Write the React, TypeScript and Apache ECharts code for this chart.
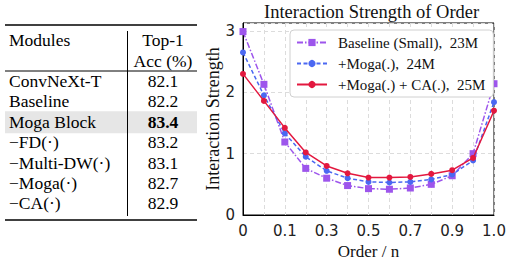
import React, { useEffect, useRef } from "react";
import * as echarts from "echarts";

const orders = ["0", "0.05", "0.1", "0.2", "0.3", "0.4", "0.5", "0.6", "0.7", "0.8", "0.9", "0.95", "1.0"];
const baselineSmall = [2.99, 2.13, 1.19, 0.76, 0.6, 0.48, 0.43, 0.42, 0.44, 0.5, 0.64, 1.0, 2.14];
const mogaOnly = [2.65, 1.95, 1.33, 0.95, 0.72, 0.6, 0.54, 0.53, 0.54, 0.58, 0.66, 0.89, 1.84];
const mogaCA = [2.3, 1.86, 1.42, 1.02, 0.8, 0.68, 0.61, 0.61, 0.62, 0.67, 0.73, 0.93, 1.7];
const seriesNames = ["Baseline (Small),  23M", "+Moga(.),  24M", "+Moga(.) + CA(.),  25M"];
const yTicks = [0, 1, 2, 3];

const tableModules = ["ConvNeXt-T", "Baseline", "Moga Block", "\u2212FD(\u00b7)", "\u2212Multi-DW(\u00b7)", "\u2212Moga(\u00b7)", "\u2212CA(\u00b7)"];
const tableAcc = ["82.1", "82.2", "83.4", "83.2", "83.1", "82.7", "82.9"];
const highlightRow = 2;

const SERIF = "Liberation Serif";
const SANS = "DejaVu Sans";

export default function App() {
  const ref = useRef<HTMLDivElement>(null);
  useEffect(() => {
    document.body.style.margin = "0";
    const chart = echarts.init(ref.current!, null, { renderer: "svg" });
    const rowY0 = 81;
    const rowStep = 20.4;
    const graphics: any[] = [];
    const txt = (x: number, y: number, text: string, align: string, bold = false) => ({
      type: "text",
      x,
      y,
      style: {
        text,
        fontFamily: SERIF,
        fontSize: 17.5,
        fontWeight: bold ? "bold" : "normal",
        fill: "#000",
        align,
        verticalAlign: "middle",
      },
    });
    graphics.push({ type: "rect", shape: { x: 5, y: rowY0 + rowStep * highlightRow - 10.5, width: 192, height: 22 }, style: { fill: "#e6e6e6" }, z: 0 });
    graphics.push({ type: "line", shape: { x1: 5, y1: 25, x2: 197, y2: 25 }, style: { stroke: "#000", lineWidth: 1.5 } });
    graphics.push({ type: "line", shape: { x1: 5, y1: 71, x2: 197, y2: 71 }, style: { stroke: "#000", lineWidth: 1 } });
    graphics.push({ type: "line", shape: { x1: 5, y1: 220, x2: 197, y2: 220 }, style: { stroke: "#000", lineWidth: 1.5 } });
    graphics.push({ type: "line", shape: { x1: 127.5, y1: 31, x2: 127.5, y2: 216 }, style: { stroke: "#000", lineWidth: 1 } });
    graphics.push(txt(9, 40, "Modules", "left"));
    graphics.push(txt(163, 40, "Top-1", "center"));
    graphics.push(txt(163, 61, "Acc (%)", "center"));
    tableModules.forEach((m, i) => {
      const y = rowY0 + rowStep * i;
      graphics.push(txt(9, y, m, "left"));
      graphics.push(txt(163, y, tableAcc[i], "center", i === highlightRow));
    });

    const colors = ["#9d55ec", "#4b68f2", "#e3183f"];
    const datas = [baselineSmall, mogaOnly, mogaCA];
    const dashes: any[] = [[6, 2, 1.5, 2], [4, 2.5], "solid"];
    const symbols = ["rect", "circle", "circle"];
    const sizes = [7, 6, 6];

    chart.setOption({
      animation: false,
      title: {
        text: "Interaction Strength of Order",
        left: 259,
        top: -3,
        textStyle: { fontFamily: SERIF, fontSize: 18.5, fontWeight: "normal", color: "#111" },
      },
      legend: {
        orient: "vertical",
        left: 290,
        top: 30,
        padding: [5, 8, 5, 6],
        itemWidth: 30,
        itemHeight: 9,
        itemGap: 6,
        backgroundColor: "#fff",
        borderColor: "#d0d0d0",
        borderWidth: 1,
        borderRadius: 4,
        textStyle: { fontFamily: SERIF, fontSize: 15, color: "#111", padding: [0, 0, 0, 6] },
        data: seriesNames,
      },
      grid: {
        left: 243,
        right: 12,
        top: 23,
        bottom: 43,
        containLabel: false,
        outerBoundsMode: "none",
        show: true,
        borderColor: "#000",
        borderWidth: 1,
        backgroundColor: "transparent",
      },
      xAxis: {
        type: "category",
        data: orders,
        boundaryGap: false,
        name: "Order / n",
        nameLocation: "middle",
        nameGap: 18,
        nameTextStyle: { fontFamily: SERIF, fontSize: 17, lineHeight: 17, color: "#111" },
        axisLine: { lineStyle: { color: "#000", width: 1 } },
        axisTick: { show: false },
        axisLabel: { interval: 1, fontFamily: SANS, fontSize: 15, color: "#222", margin: 8 },
        splitLine: { show: true, interval: 0, lineStyle: { color: "#dcdcdc", type: [4, 3], width: 1 } },
      },
      yAxis: {
        type: "value",
        min: 0,
        max: 3.13,
        interval: 1,
        name: "Interaction Strength",
        nameLocation: "middle",
        nameGap: 14,
        nameTextStyle: { fontFamily: SERIF, fontSize: 18, color: "#111" },
        axisLine: { show: true, lineStyle: { color: "#000", width: 1 } },
        axisTick: { show: false },
        axisLabel: {
          fontFamily: SANS,
          fontSize: 15,
          color: "#222",
          margin: 8,
          showMaxLabel: false,
          formatter: (v: number) => (yTicks.includes(v) ? String(v) : ""),
        },
        splitLine: { show: true, lineStyle: { color: "#dcdcdc", type: [4, 3], width: 1 } },
      },
      series: seriesNames.map((name, i) => ({
        name,
        type: "line",
        data: datas[i],
        symbol: symbols[i],
        symbolSize: sizes[i],
        color: colors[i],
        itemStyle: { color: colors[i] },
        lineStyle: { color: colors[i], width: 1.5, type: dashes[i] },
        z: 3 + i,
      })),
      graphic: graphics,
    });
    return () => chart.dispose();
  }, []);
  return <div ref={ref} style={{ width: 506, height: 258 }} />;
}
